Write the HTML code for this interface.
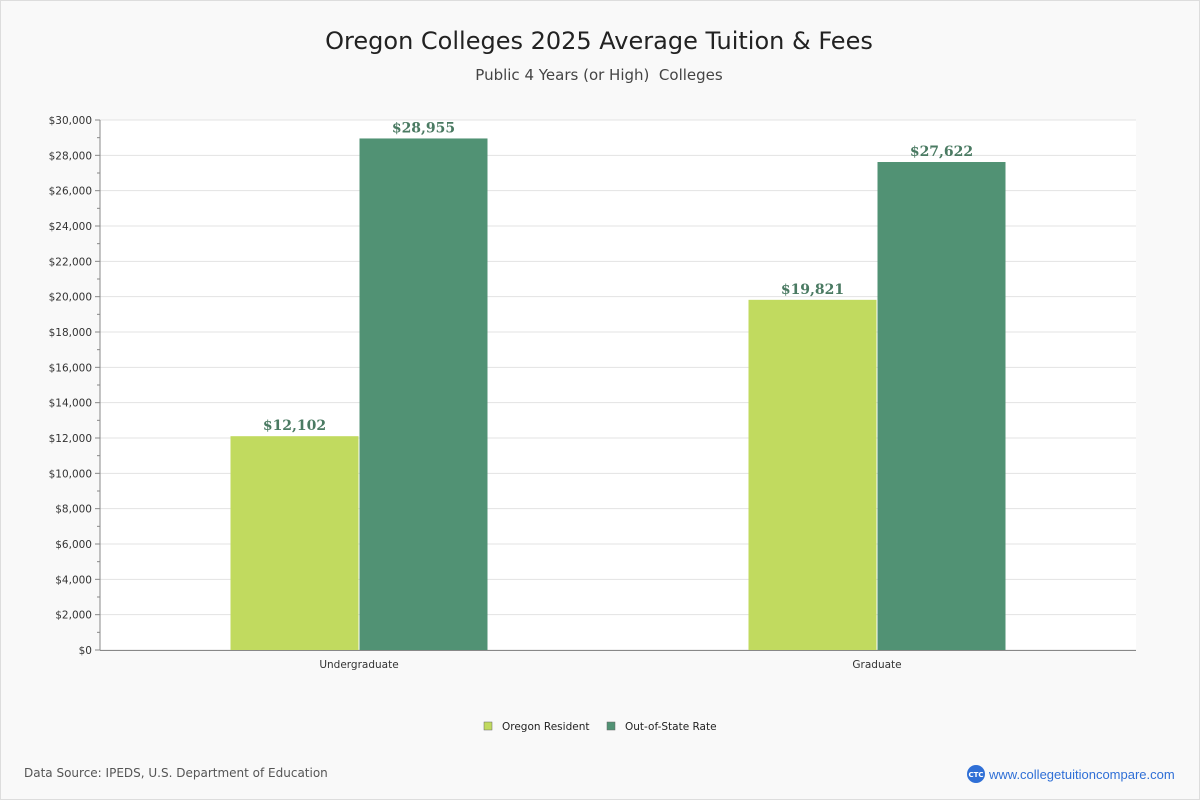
<!DOCTYPE html>
<html><head><meta charset="utf-8"><style>
body{margin:0;background:#fff;font-family:"DejaVu Sans","Liberation Sans",sans-serif;}
#wrap{position:relative;width:1198px;height:798px;border:1px solid #ddd;background:#f9f9f9;}
</style></head><body>
<div id="wrap">
<svg id="chart" width="1198" height="798" xmlns="http://www.w3.org/2000/svg" style="position:absolute;left:0;top:0">
<text x="598" y="48" text-anchor="middle" font-size="24" fill="#222">Oregon Colleges 2025 Average Tuition &amp; Fees</text>
<text x="598" y="79" text-anchor="middle" font-size="15" fill="#444">Public 4 Years (or High)&#160; Colleges</text>
<rect x="99" y="119" width="1036" height="530" fill="#fff"/>
<g id="grid"></g><g id="bars"></g><g id="axes"></g>
<g>
<rect x="483" y="721" width="8" height="8" fill="#c1da5f" stroke="#666" stroke-width="0.5"/>
<text x="501" y="729" font-size="10.5" fill="#222">Oregon Resident</text>
<rect x="606" y="721" width="8" height="8" fill="#519274" stroke="#666" stroke-width="0.5"/>
<text x="624" y="729" font-size="10.5" fill="#222">Out-of-State Rate</text>
</g>
<text x="23" y="776" font-size="12" fill="#555">Data Source: IPEDS, U.S. Department of Education</text>
<circle cx="975" cy="773" r="9" fill="#2f6fd6"/>
<text x="975" y="776" text-anchor="middle" font-size="7" fill="#fff" font-weight="bold">CTC</text>
<text x="988" y="778" font-size="13" fill="#2f6fd6" font-family="Liberation Sans, sans-serif">www.collegetuitioncompare.com</text>
</svg>
</div>
<script>
const categories=["Undergraduate","Graduate"];
const residentValues=[12102,19821];
const outOfStateValues=[28955,27622];
const yTicks=[0,2000,4000,6000,8000,10000,12000,14000,16000,18000,20000,22000,24000,26000,28000,30000];
const NS="http://www.w3.org/2000/svg";
const X0=99,X1=1135,Y0=649,Y1=119,YMAX=30000;
const y=v=>Y0-(v/YMAX)*(Y0-Y1);
const catW=(X1-X0)/categories.length;
const cx=i=>X0+catW*(i+0.5);
function mk(tag,attrs,parent,txt){const e=document.createElementNS(NS,tag);for(const k in attrs)e.setAttribute(k,attrs[k]);if(txt!==undefined)e.textContent=txt;document.getElementById(parent).appendChild(e);return e;}
const fmt=v=>"$"+v.toLocaleString("en-US");
yTicks.forEach(t=>{
  const g=mk("line",{x1:X0,x2:X1,y1:y(t),y2:y(t),stroke:"#e3e3e3"},"grid");
  
  
  const tk=mk("line",{x1:X0-5,x2:X0,y1:y(t),y2:y(t),stroke:"#888"},"axes");
  
  
  const l=mk("text",{x:X0-8,y:y(t)+4,"text-anchor":"end","font-size":"10.5",fill:"#333"},"axes",fmt(t));
  
  
  if(t<YMAX){const m=mk("line",{x1:X0-3,x2:X0,y1:y(t+1000),y2:y(t+1000),stroke:"#888"},"axes");
  
  }
});
const ax=mk("line",{x1:X0,x2:X0,y1:Y1,y2:Y0,stroke:"#888"},"axes");


const bx=mk("line",{x1:X0,x2:X1,y1:Y0+0.5,y2:Y0+0.5,stroke:"#888"},"axes");


const BW=128;
categories.forEach((c,i)=>{
  [[residentValues[i],"#c1da5f",-BW-0.5,"bar-resident"],[outOfStateValues[i],"#519274",0.5,"bar-outofstate"]].forEach(([v,col,off,nm])=>{
    const r=mk("rect",{x:cx(i)+off,y:y(v),width:BW,height:Y0-y(v),fill:col},"bars");
    
    
    const t=mk("text",{x:cx(i)+off+BW/2,y:y(v)-6,"text-anchor":"middle","font-size":"14","font-weight":"bold",fill:"#4a7a62","font-family":"DejaVu Serif, Liberation Serif, serif"},"bars",fmt(v));
    
    
  });
  const l=mk("text",{x:cx(i),y:Y0+18,"text-anchor":"middle","font-size":"10.5",fill:"#333"},"axes",c);
  
  
});
</script>
</body></html>
